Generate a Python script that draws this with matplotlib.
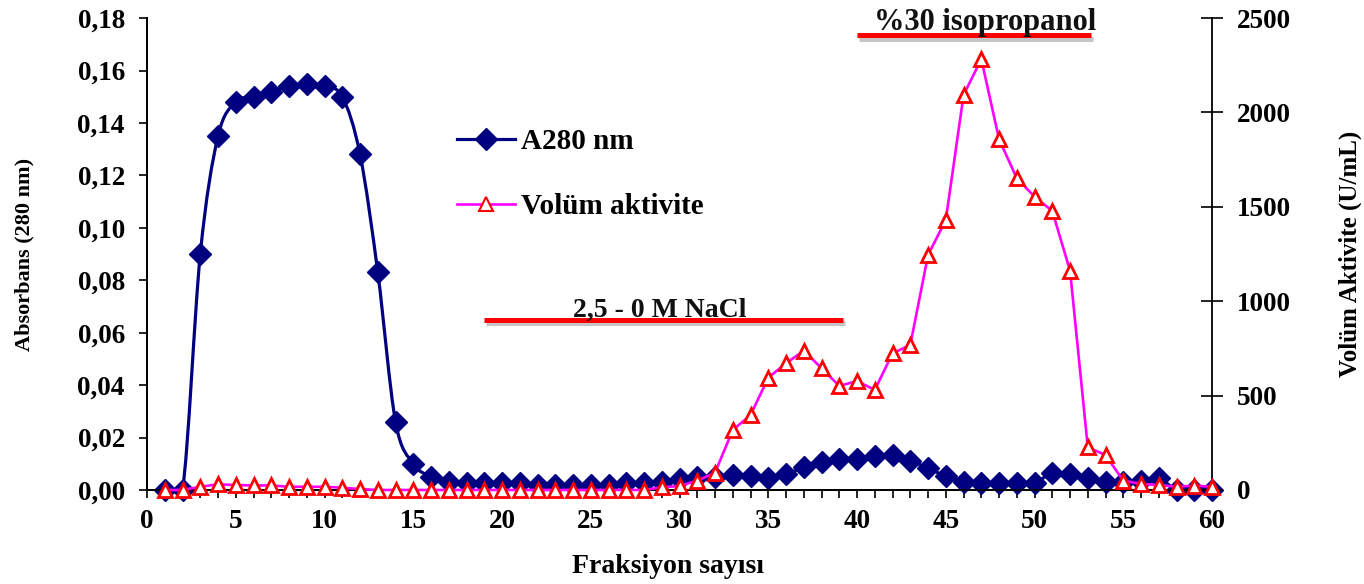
import matplotlib
matplotlib.use("Agg")
import matplotlib.pyplot as plt
import numpy as np
from matplotlib.path import Path
from matplotlib.patches import PathPatch
from matplotlib.lines import Line2D
from matplotlib.ticker import FuncFormatter, MultipleLocator
import matplotlib.patheffects as pe

plt.rcParams['font.family'] = ['Liberation Serif', 'DejaVu Serif']
plt.rcParams['font.weight'] = 'bold'

fractions = list(range(1, 61))
a280 = [0.0, 0.0, 0.090, 0.135, 0.148, 0.150, 0.152, 0.154, 0.155, 0.154,
        0.150, 0.128, 0.083, 0.026, 0.010, 0.005, 0.003, 0.0025, 0.0025, 0.0025,
        0.0025, 0.002, 0.002, 0.002, 0.002, 0.002, 0.0025, 0.0025, 0.003, 0.004,
        0.005, 0.005, 0.0057, 0.0053, 0.0045, 0.006, 0.0087, 0.0106, 0.0118, 0.0118,
        0.013, 0.0135, 0.0112, 0.0083, 0.0053, 0.0032, 0.0028, 0.0025, 0.0028, 0.0028,
        0.0064, 0.006, 0.0047, 0.0032, 0.0032, 0.0034, 0.0045, 0.0, 0.0, 0.0]
activity = [0, 0, 17, 30, 26, 24, 24, 17, 17, 17,
            12, 5, 0, 0, 0, 0, 0, 0, 0, 0,
            0, 0, 0, 0, 0, 0, 0, 0, 14, 21,
            49, 92, 318, 397, 595, 671, 738, 645, 551, 577,
            530, 724, 768, 1245, 1430, 2092, 2283, 1859, 1651, 1554,
            1478, 1162, 226, 185, 49, 32, 26, 17, 23, 17]

xticks = [0, 5, 10, 15, 20, 25, 30, 35, 40, 45, 50, 55, 60]
left_ticks = [0.0, 0.02, 0.04, 0.06, 0.08, 0.10, 0.12, 0.14, 0.16, 0.18]
right_ticks = [0, 500, 1000, 1500, 2000, 2500]

label_a = "A280 nm"
label_v = "Volüm aktivite"
nacl_text = "2,5 - 0 M NaCl"
nacl_range = [19.0, 39.2]
nacl_level = 0.065
iso_text = "%30 isopropanol"
iso_range = [40.0, 53.2]
iso_level = 0.1735

navy = '#000080'
magenta = '#FF00FF'

fig = plt.figure(figsize=(13.64, 5.84), dpi=100)
ax = fig.add_axes([0.1078, 0.161, 0.7808, 0.808])
ax2 = ax.twinx()

# smoothed (Catmull-Rom / Bezier) line for A280, like Excel's smoothed line
x = np.asarray(fractions, float)
y = np.asarray(a280, float)
verts = [(x[0], y[0])]
codes = [Path.MOVETO]
n = len(x)
for i in range(n - 1):
    p0 = (x[i - 1], y[i - 1]) if i > 0 else (x[i], y[i])
    p1 = (x[i], y[i])
    p2 = (x[i + 1], y[i + 1])
    p3 = (x[i + 2], y[i + 2]) if i + 2 < n else (x[i + 1], y[i + 1])
    c1 = (p1[0] + (p2[0] - p0[0]) / 6, p1[1] + (p2[1] - p0[1]) / 6)
    c2 = (p2[0] - (p3[0] - p1[0]) / 6, p2[1] - (p3[1] - p1[1]) / 6)
    verts += [c1, c2, p2]
    codes += [Path.CURVE4] * 3
ax.add_patch(PathPatch(Path(verts, codes), facecolor='none', edgecolor=navy,
                       lw=2.3, zorder=3))
ax.plot(fractions, a280, linestyle='none', marker='D', markersize=11,
        color=navy, zorder=4, clip_on=False)

ax2.plot(fractions, activity, color=magenta, lw=1.9, marker='^', markersize=10.5,
         markerfacecolor='white', markeredgecolor='#FF0000', markeredgewidth=2.0,
         zorder=4, clip_on=False)

ax.set_xlim(0, 60)
ax.set_ylim(0, 0.18)
ax2.set_ylim(0, 2500)
ax.set_xticks(xticks)
ax.xaxis.set_minor_locator(MultipleLocator(1))
ax.set_yticks(left_ticks)
ax2.set_yticks(right_ticks)
ax.yaxis.set_major_formatter(FuncFormatter(lambda v, p: f"{v:.2f}".replace('.', ',')))

for a in (ax, ax2):
    a.spines['top'].set_visible(False)
    a.spines['left'].set_linewidth(1.3)
    a.spines['right'].set_linewidth(1.3)
    a.spines['bottom'].set_linewidth(1.3)
ax.spines['right'].set_visible(False)

ax.tick_params(axis='x', which='both', direction='out', length=6, width=1.2,
               labelsize=19.5, pad=8)
ax.tick_params(axis='y', direction='out', length=6, width=1.2, labelsize=19.5, pad=10)
ax2.tick_params(axis='y', direction='inout', length=16, width=1.2, labelsize=19.5, pad=10)

for lab in ax.get_xticklabels() + ax.get_yticklabels() + ax2.get_yticklabels():
    lab.set_fontweight('bold')

ax.set_xlabel("Fraksiyon sayısı", fontsize=20, fontweight='bold', labelpad=14)
ax.xaxis.label.set_x(0.489)
ax.set_ylabel("Absorbans (280 nm)", fontsize=16, fontweight='bold', labelpad=31)
ax2.set_ylabel("Volüm Aktivite (U/mL)", fontsize=18, fontweight='bold', labelpad=34)

shadow = [pe.SimpleLineShadow(offset=(1.5, -2.5), shadow_color='gray', alpha=0.45),
          pe.Normal()]
ax.plot(nacl_range, [nacl_level, nacl_level], color='#FF0000', lw=3.6,
        solid_capstyle='butt', path_effects=shadow, zorder=5, clip_on=False)
ax.plot(iso_range, [iso_level, iso_level], color='#FF0000', lw=3.6,
        solid_capstyle='butt', path_effects=shadow, zorder=5, clip_on=False)
ax.text(28.9, nacl_level + 0.0010, nacl_text, ha='center', va='baseline',
        fontsize=20, fontweight='bold', color='#111111', zorder=6)
ax.text(47.2, iso_level + 0.0020, iso_text, ha='center', va='baseline',
        fontsize=22, fontweight='bold', color='#111111', zorder=6, clip_on=False)

handles = [Line2D([], [], color=navy, lw=2.3, marker='D', markersize=11),
           Line2D([], [], color=magenta, lw=1.9, marker='^', markersize=10,
                  markerfacecolor='white', markeredgecolor='#FF0000',
                  markeredgewidth=1.5)]
ax2.legend(handles, [label_a, label_v], loc='upper left',
           bbox_to_anchor=(0.3155, 0.825), bbox_transform=fig.transFigure,
           frameon=False, prop={'family': 'Liberation Serif', 'weight': 'bold', 'size': 21},
           labelspacing=1.3, handlelength=2.0, handletextpad=0.2)

fig.savefig("out.png", dpi=100)
